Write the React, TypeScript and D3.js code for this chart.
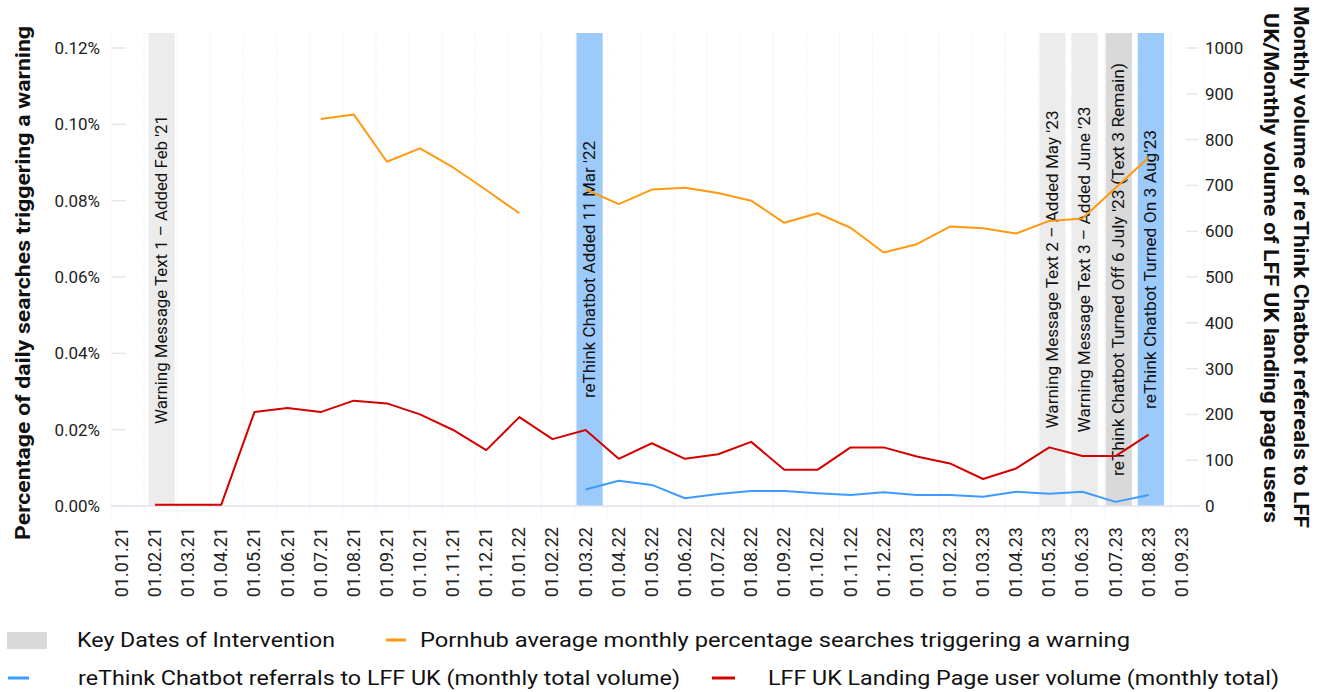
import React from "react";
import * as d3 from "d3";

const months = [
  "01.01.21","01.02.21","01.03.21","01.04.21","01.05.21","01.06.21","01.07.21","01.08.21","01.09.21","01.10.21","01.11.21","01.12.21",
  "01.01.22","01.02.22","01.03.22","01.04.22","01.05.22","01.06.22","01.07.22","01.08.22","01.09.22","01.10.22","01.11.22","01.12.22",
  "01.01.23","01.02.23","01.03.23","01.04.23","01.05.23","01.06.23","01.07.23","01.08.23","01.09.23",
];

// Pornhub average monthly percentage of searches triggering a warning (%)
const pornhubPct: (number | null)[] = [
  null, null, null, null, null, null, 0.1014, 0.1026, 0.0902, 0.0937, 0.0887, 0.0828,
  0.0767, null, 0.0830, 0.0791, 0.0829, 0.0834, 0.0820, 0.0800, 0.0742, 0.0767, 0.0729, 0.0664,
  0.0686, 0.0732, 0.0728, 0.0714, 0.0747, 0.0753, 0.0833, 0.0913, null,
];

// reThink Chatbot referrals to LFF UK (monthly total volume)
const chatbotReferrals: (number | null)[] = [
  null, null, null, null, null, null, null, null, null, null, null, null,
  null, null, 36, 55, 46, 17, 26, 33, 33, 28, 24, 30,
  24, 24, 20, 31, 27, 31, 9, 24, null,
];

// LFF UK Landing Page user volume (monthly total)
const landingUsers: (number | null)[] = [
  null, 3, 3, 3, 205, 214, 205, 230, 224, 200, 166, 122,
  194, 146, 166, 103, 137, 103, 113, 140, 79, 79, 128, 128,
  108, 93, 59, 82, 128, 109, 109, 156, null,
];

const leftTicks = [0, 0.02, 0.04, 0.06, 0.08, 0.1, 0.12];
const rightTicks = [0, 100, 200, 300, 400, 500, 600, 700, 800, 900, 1000];

const bands = [
  { at: 1.2, kind: "light", label: "Warning Message Text 1 – Added Feb '21", len: 309 },
  { at: 14.12, kind: "blue", label: "reThink Chatbot Added 11 Mar '22", len: 257 },
  { at: 28.1, kind: "light", label: "Warning Message Text 2 – Added May '23", len: 318 },
  { at: 29.07, kind: "light", label: "Warning Message Text 3 – Added June '23", len: 326 },
  { at: 30.1, kind: "dark", label: "reThink Chatbot Turned Off 6 July '23 (Text 3 Remain)", len: 413 },
  { at: 31.07, kind: "blue", label: "reThink Chatbot Turned On 3 Aug'23", len: 279 },
];

const bandColors: Record<string, string> = { light: "#ececec", dark: "#d9d9d9", blue: "#9ccafb" };

const C_ORANGE = "#ff9a10";
const C_BLUE = "#3d9bff";
const C_RED = "#d40000";
const FONT = "Roboto, 'DejaVu Sans', sans-serif";

export default function App() {
  const W = 1317, H = 692;
  const top = 33, bottom = 506;
  const x = d3.scaleLinear().domain([-0.33, 32.4]).range([111, 1195]);
  const step = x(1) - x(0);
  const yL = d3.scaleLinear().domain([0, 0.12]).range([bottom, 48]);
  const yR = d3.scaleLinear().domain([0, 1000]).range([bottom, 48]);

  const lineL = d3.line<number | null>()
    .defined((d) => d != null)
    .x((_, i) => x(i))
    .y((d) => yL(d as number));
  const lineR = d3.line<number | null>()
    .defined((d) => d != null)
    .x((_, i) => x(i))
    .y((d) => yR(d as number));

  const midY = (top + bottom) / 2;

  return (
    <svg width={W} height={H} style={{ position: "absolute", left: 0, top: 0, background: "#fff" }} fontFamily={FONT}>
      {/* vertical grid lines */}
      {months.map((m, i) => (
        <line key={"g" + m} x1={x(i - 0.33)} x2={x(i - 0.33)} y1={top} y2={bottom + 11}
          stroke="#eeeeee" strokeWidth={1} strokeDasharray="1.5,1.5" />
      ))}
      <line x1={x(32.67)} x2={x(32.67)} y1={top} y2={bottom + 11} stroke="#eeeeee" strokeDasharray="1.5,1.5" />

      {/* intervention bands */}
      {bands.map((b) => (
        <rect key={"b" + b.label} x={x(b.at) - step * 0.395} width={step * 0.79} y={top} height={bottom - top}
          fill={bandColors[b.kind]} />
      ))}
      {bands.map((b) => (
        <text key={"t" + b.label} transform={`translate(${x(b.at)},${midY}) rotate(-90)`}
          textAnchor="middle" dominantBaseline="central" fontSize={16} fill="#111"
          textLength={b.len} lengthAdjust="spacingAndGlyphs">{b.label}</text>
      ))}

      {/* axis line */}
      <line x1={111} x2={1200} y1={bottom} y2={bottom} stroke="#dfe5ec" strokeWidth={1.5} />

      {/* left ticks */}
      {leftTicks.map((t) => (
        <g key={"l" + t}>
          <line x1={112} x2={126} y1={yL(t)} y2={yL(t)} stroke="#e2e7ee" strokeWidth={1.5} />
          <text x={100} y={yL(t)} textAnchor="end" dominantBaseline="central" fontSize={17} fill="#222">
            {t.toFixed(2) + "%"}
          </text>
        </g>
      ))}
      {/* right ticks */}
      {rightTicks.map((t) => (
        <g key={"r" + t}>
          <line x1={1186} x2={1198} y1={yR(t)} y2={yR(t)} stroke="#e2e7ee" strokeWidth={1.5} />
          <text x={1205} y={yR(t)} textAnchor="start" dominantBaseline="central" fontSize={17} fill="#222">
            {t}
          </text>
        </g>
      ))}

      {/* x labels */}
      {months.map((m, i) => (
        <text key={"x" + m} transform={`translate(${x(i) + 6},${527}) rotate(-90)`} textAnchor="end"
          fontSize={18} fill="#222">{m}</text>
      ))}

      {/* lines */}
      <path d={lineR(landingUsers) || ""} fill="none" stroke={C_RED} strokeWidth={2} strokeLinejoin="round" />
      <path d={lineR(chatbotReferrals) || ""} fill="none" stroke={C_BLUE} strokeWidth={2} strokeLinejoin="round" />
      <path d={lineL(pornhubPct) || ""} fill="none" stroke={C_ORANGE} strokeWidth={2} strokeLinejoin="round" />

      {/* axis titles */}
      <text transform={`translate(30,283) rotate(-90)`} textAnchor="middle" fontSize={20} fontWeight="bold" fill="#111"
        textLength={514} lengthAdjust="spacingAndGlyphs">
        Percentage of daily searches triggering a warning
      </text>
      <text transform={`translate(1294,267) rotate(90)`} textAnchor="middle" fontSize={20} fontWeight="bold" fill="#111"
        textLength={522} lengthAdjust="spacingAndGlyphs">
        Monthly volume of reThink Chatbot refereals to LFF
      </text>
      <text transform={`translate(1264,268) rotate(90)`} textAnchor="middle" fontSize={20} fontWeight="bold" fill="#111"
        textLength={510} lengthAdjust="spacingAndGlyphs">
        UK/Monthly volume of LFF UK landing page users
      </text>

      {/* legend */}
      <rect x={7} y={632} width={40} height={17} fill="#d9d9d9" />
      <text x={77} y={640} dominantBaseline="central" fontSize={20} fill="#111" textLength={258} lengthAdjust="spacingAndGlyphs">
        Key Dates of Intervention
      </text>
      <line x1={386} x2={406} y1={640} y2={640} stroke={C_ORANGE} strokeWidth={3} />
      <text x={420} y={640} dominantBaseline="central" fontSize={20} fill="#111" textLength={710} lengthAdjust="spacingAndGlyphs">
        Pornhub average monthly percentage searches triggering a warning
      </text>
      <line x1={8} x2={29} y1={678} y2={678} stroke={C_BLUE} strokeWidth={3} />
      <text x={78} y={678} dominantBaseline="central" fontSize={20} fill="#111" textLength={602} lengthAdjust="spacingAndGlyphs">
        reThink Chatbot referrals to LFF UK (monthly total volume)
      </text>
      <line x1={712} x2={735} y1={678} y2={678} stroke={C_RED} strokeWidth={3} />
      <text x={768} y={678} dominantBaseline="central" fontSize={20} fill="#111" textLength={511} lengthAdjust="spacingAndGlyphs">
        LFF UK Landing Page user volume (monthly total)
      </text>
    </svg>
  );
}
